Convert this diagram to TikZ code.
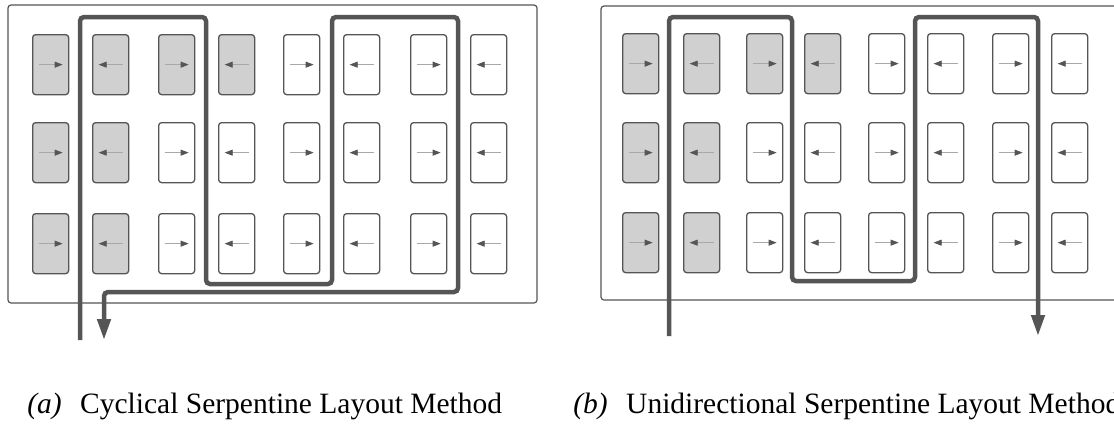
\documentclass[tikz,border=0pt]{standalone}
\usepackage{fontspec}
\setmainfont{Liberation Serif}
\usetikzlibrary{arrows.meta}
\definecolor{ink}{HTML}{555555}
\definecolor{cellfill}{HTML}{D0D0D0}
\definecolor{shaft}{HTML}{A8A8A8}
\tikzset{
  frame/.style={draw=ink, line width=1.2pt, rounded corners=3pt},
  cell/.style={draw=ink, line width=1.3pt, rounded corners=3pt,
    minimum width=36pt, minimum height=60pt, inner sep=0pt, anchor=north west},
  flow/.style={draw=shaft, line width=0.8pt,
    -{Triangle[length=8pt,width=6pt,color=ink]}},
  route/.style={draw=ink, line width=4.5pt, rounded corners=4pt},
  routeend/.style={-{Triangle[length=21pt,width=13pt]}},
  captag/.style={anchor=base east, inner sep=0pt,
    font=\fontsize{29.5}{34}\selectfont\itshape},
  caption/.style={anchor=base west, inner sep=0pt,
    font=\fontsize{29.5}{34}\selectfont},
}
\begin{document}
\begin{tikzpicture}[x=1pt, y=-1pt]
\useasboundingbox (0,0) rectangle (1114,424);

% outer frames
\draw[frame] (8,5) rectangle (537,303);
\draw[frame] (601,6) rectangle (1124,300);

% grid of cells: pattern of filled cells and alternating directions
\foreach \p/\xs/\ys in {a/{32,92,158,218,283,343,410,470}/{34,122,213},
                        b/{622,683,746,804,868,927,992,1051}/{33,122,212}}{
  \foreach \x [count=\c] in \xs {
    \foreach \y [count=\r] in \ys {
      \def\fc{white}
      \ifnum\c<3 \def\fc{cellfill}\fi
      \ifnum\r=1 \ifnum\c<5 \def\fc{cellfill}\fi\fi
      \node[cell, fill=\fc] (\p-\r-\c) at (\x,\y) {};
      \ifodd\c
        \draw[flow] ([xshift=-12pt]\p-\r-\c.center) -- ([xshift=12pt]\p-\r-\c.center);
      \else
        \draw[flow] ([xshift=12pt]\p-\r-\c.center) -- ([xshift=-12pt]\p-\r-\c.center);
      \fi
    }
  }
}

% cyclical serpentine route
\coordinate (a-in)  at (80,340);
\coordinate (a-t1)  at (80,17);
\coordinate (a-t2)  at (206,17);
\coordinate (a-b1)  at (206,284);
\coordinate (a-b2)  at (332,284);
\coordinate (a-t3)  at (332,17);
\coordinate (a-t4)  at (458,17);
\coordinate (a-b3)  at (458,292);
\coordinate (a-b4)  at (104,292);
\coordinate (a-out) at (104,340);
\draw[route, routeend] (a-in) -- (a-t1) -- (a-t2) -- (a-b1) -- (a-b2)
  -- (a-t3) -- (a-t4) -- (a-b3) -- (a-b4) -- (a-out);

% unidirectional serpentine route
\coordinate (b-in)  at (669,336);
\coordinate (b-t1)  at (669,17);
\coordinate (b-t2)  at (792,17);
\coordinate (b-b1)  at (792,281);
\coordinate (b-b2)  at (915,281);
\coordinate (b-t3)  at (915,17);
\coordinate (b-t4)  at (1038,17);
\coordinate (b-out) at (1038,336);
\draw[route, routeend] (b-in) -- (b-t1) -- (b-t2) -- (b-b1) -- (b-b2)
  -- (b-t3) -- (b-t4) -- (b-out);

% captions
\node[captag]  (tag-a) at (62,413)  {(a)};
\node[caption] (cap-a) at (80,413)  {Cyclical Serpentine Layout Method};
\node[captag]  (tag-b) at (608,413) {(b)};
\node[caption] (cap-b) at (626,413) {Unidirectional Serpentine Layout Method};
\end{tikzpicture}
\end{document}
